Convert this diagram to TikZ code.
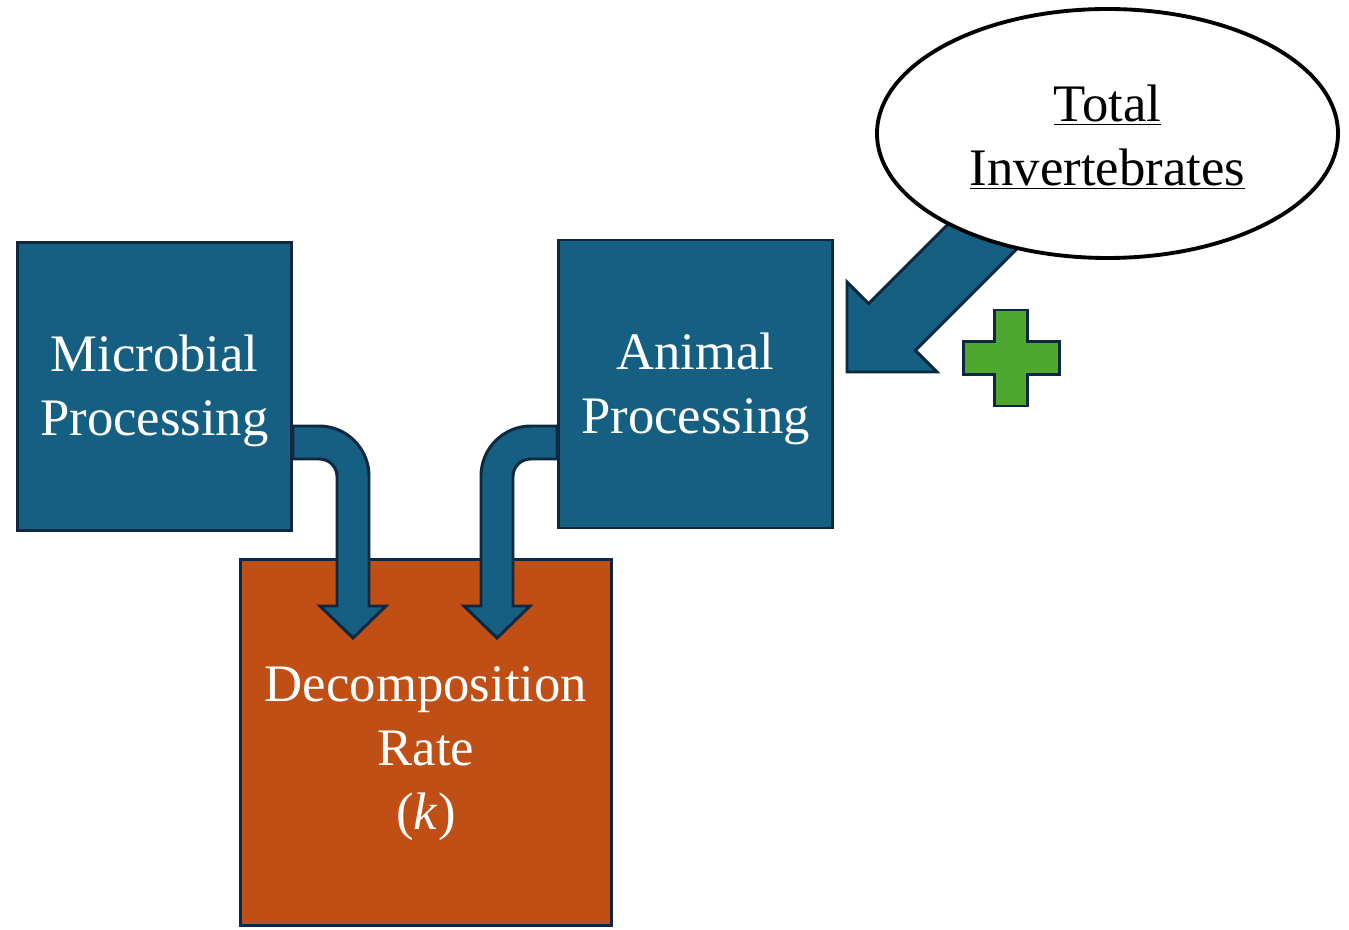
\documentclass[tikz,border=0pt]{standalone}
\usepackage{fontspec}
\setmainfont{Liberation Serif}
\usepackage{xcolor}
\usetikzlibrary{calc,positioning,shapes.geometric}
\definecolor{procblue}{RGB}{21,96,130}
\definecolor{rateorange}{RGB}{192,79,21}
\definecolor{plusgreen}{RGB}{78,167,46}
\definecolor{edgenavy}{RGB}{14,40,65}
\tikzset{
  proc/.style={rectangle,draw=edgenavy,fill=procblue,line width=1.7pt,minimum width=5.48cm,minimum height=5.76cm,inner sep=0pt},
  rate/.style={proc,fill=rateorange,minimum width=7.42cm,minimum height=7.32cm},
  boxtext/.style={text=white,align=center,inner sep=0pt,font=\fontsize{30}{36.4}\selectfont},
  driver/.style={ellipse,draw=black,fill=white,line width=2.2pt,minimum width=9.22cm,minimum height=4.98cm,inner sep=0pt},
  drivertext/.style={boxtext,text=black},
  % block arrows are filled outlines, corners rounded only at the bends
  flow/.style={draw=edgenavy,fill=procblue,line width=1.7pt,line join=miter},
  plusmark/.style={draw=edgenavy,fill=plusgreen,line width=1.7pt},
}
\newcommand{\Positions}{%
  \coordinate (M) at (3.09,10.85);  \coordinate (A) at (13.91,10.90);
  \coordinate (R) at (8.52,3.73);   \coordinate (I) at (22.15,15.91);
  \coordinate (P) at (20.22,11.42);
}
\begin{document}
\begin{tikzpicture}
  \useasboundingbox (0,0) rectangle (26.98,18.58);
  \Positions
  \node[proc,label={[boxtext,yshift=-0.09cm]center:Microbial\\Processing}] (micro) at (M) {};
  \node[proc,label={[boxtext,yshift=-0.10cm]center:Animal\\Processing}] (animal) at (A) {};
  \node[rate,label={[boxtext,yshift=-0.22cm]center:Decomposition\\Rate\\(\textit{k})}] (rate) at (R) {};
  \coordinate (tipL) at ($(rate.north)+(-1.46,-1.60)$);
  \coordinate (tipR) at ($(rate.north)+(1.42,-1.60)$);
  \coordinate (tipD) at ($(animal.east)+(0.26,0.24)$);
  \coordinate (mTop) at ([yshift=-0.79cm]micro.east);
  \coordinate (mBot) at ([yshift=-1.45cm]micro.east);
  \coordinate (aTop) at ([yshift=-0.84cm]animal.west);
  \coordinate (aBot) at ([yshift=-1.50cm]animal.west);
  \coordinate (lOut) at ([xshift=0.32cm]tipL);  \coordinate (lIn) at ([xshift=-0.32cm]tipL);
  \coordinate (rOut) at ([xshift=-0.32cm]tipR); \coordinate (rIn) at ([xshift=0.32cm]tipR);
  \draw[flow] (mTop) [rounded corners=1cm] -- (mTop -| lOut) [sharp corners] -- ([yshift=0.64cm]lOut)
    -- ([shift={(0.66,0.64)}]tipL) -- (tipL) -- ([shift={(-0.66,0.64)}]tipL) -- ([yshift=0.64cm]lIn)
    [rounded corners=0.35cm] -- (mBot -| lIn) [sharp corners] -- (mBot) -- cycle;
  \draw[flow] (aTop) [rounded corners=1cm] -- (aTop -| rOut) [sharp corners] -- ([yshift=0.64cm]rOut)
    -- ([shift={(-0.66,0.64)}]tipR) -- (tipR) -- ([shift={(0.66,0.64)}]tipR) -- ([yshift=0.64cm]rIn)
    [rounded corners=0.35cm] -- (aBot -| rIn) [sharp corners] -- (aBot) -- cycle;
  \draw[flow] (tipD) -- ++(0,1.8) -- ++(0.433,-0.433) -- ++(2.26,2.26) -- ++(0.934,-0.934)
    -- ++(-2.26,-2.26) -- ++(0.433,-0.433) -- cycle;
  \node[driver,label={[drivertext,yshift=-0.08cm]center:\underline{Total}\\\underline{Invertebrates}}] (inv) at (I) {};
  \draw[plusmark] (P) ++(-0.33,0.96) -- ++(0.66,0) -- ++(0,-0.63) -- ++(0.63,0) -- ++(0,-0.66)
    -- ++(-0.63,0) -- ++(0,-0.63) -- ++(-0.66,0) -- ++(0,0.63) -- ++(-0.63,0) -- ++(0,0.66)
    -- ++(0.63,0) -- cycle;
\end{tikzpicture}
\end{document}
